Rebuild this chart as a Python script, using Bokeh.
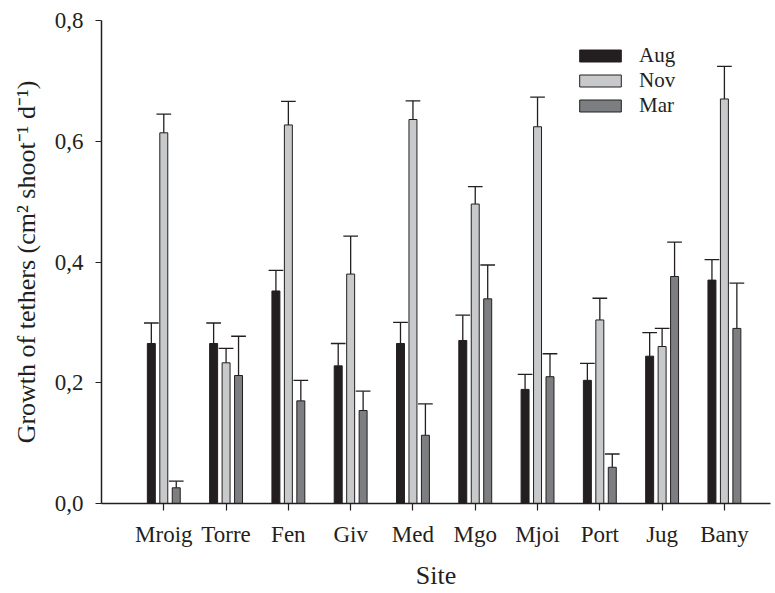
from bokeh.plotting import figure
from bokeh.models import (Range1d, FixedTicker, CustomJSTickFormatter, Legend,
                          LegendItem, ColumnDataSource)
from bokeh.embed import file_html
from bokeh.resources import INLINE

# ---- data ----
sites = ["Mroig", "Torre", "Fen", "Giv", "Med", "Mgo", "Mjoi", "Port", "Jug", "Bany"]
aug = [0.265, 0.265, 0.352, 0.228, 0.265, 0.270, 0.189, 0.204, 0.244, 0.370]
aug_se = [0.034, 0.034, 0.034, 0.037, 0.035, 0.042, 0.025, 0.028, 0.039, 0.034]
nov = [0.614, 0.233, 0.627, 0.380, 0.636, 0.496, 0.624, 0.304, 0.260, 0.670]
nov_se = [0.031, 0.024, 0.039, 0.063, 0.031, 0.029, 0.049, 0.036, 0.030, 0.054]
mar = [0.026, 0.212, 0.170, 0.154, 0.113, 0.339, 0.210, 0.060, 0.376, 0.290]
mar_se = [0.011, 0.065, 0.034, 0.032, 0.052, 0.056, 0.038, 0.022, 0.057, 0.075]
y_ticks = [0.0, 0.2, 0.4, 0.6, 0.8]

series = [("Aug", aug, aug_se, -0.2, "#231f20"),
          ("Nov", nov, nov_se, 0.0, "#c8c9cb"),
          ("Mar", mar, mar_se, 0.2, "#7d7e82")]

FONT = "Liberation Serif"
INK = "#231f20"

p = figure(width=775, height=593, output_backend="svg", toolbar_location=None,
           x_range=Range1d(0, 10.74), y_range=Range1d(0, 0.8),
           min_border_left=101, min_border_right=5, min_border_top=20,
           min_border_bottom=90)
p.outline_line_color = None
p.grid.visible = False
p.background_fill_color = "white"

bar_w = 0.128
cap_half = 0.118
items = []
for name, vals, se, off, col in series:
    xs = [i + 1 + off for i in range(len(sites))]
    tops = [v + s for v, s in zip(vals, se)]
    src = ColumnDataSource(dict(x=xs, top=vals, errtop=tops,
                                xl=[x - cap_half for x in xs],
                                xr=[x + cap_half for x in xs]))
    r = p.vbar(x="x", top="top", bottom=0, width=bar_w, source=src,
               fill_color=col, line_color=INK, line_width=1)
    p.segment(x0="x", y0="top", x1="x", y1="errtop", source=src,
              line_color=INK, line_width=1.3)
    p.segment(x0="xl", y0="errtop", x1="xr", y1="errtop", source=src,
              line_color=INK, line_width=1.3)
    items.append(LegendItem(label=name, renderers=[r]))

legend = Legend(items=items, location=(473, 385), orientation="vertical",
                glyph_width=52, glyph_height=15, label_height=15,
                spacing=0, padding=0, margin=0, label_standoff=13,
                label_text_font=FONT, label_text_font_size="21px",
                label_text_color=INK, border_line_color=None,
                background_fill_alpha=0)
p.add_layout(legend, "center")

# x axis
xa = p.xaxis[0]
xa.ticker = FixedTicker(ticks=list(range(1, len(sites) + 1)))
xa.major_label_overrides = {i + 1: s for i, s in enumerate(sites)}
xa.minor_tick_line_color = None
xa.major_tick_out = 7
xa.major_tick_in = 0
xa.major_label_standoff = 11
xa.axis_label = "Site"
xa.axis_label_standoff = 11

# y axis
ya = p.yaxis[0]
ya.ticker = FixedTicker(ticks=y_ticks)
ya.formatter = CustomJSTickFormatter(code="return tick.toFixed(1).replace('.', ',');")
ya.minor_tick_line_color = None
ya.major_tick_out = 6
ya.major_tick_in = 0
ya.major_label_standoff = 12
ya.axis_label = "Growth of tethers (cm\u00b2 shoot\u207b\u00b9 d\u207b\u00b9)"
ya.axis_label_standoff = 11

for ax in (xa, ya):
    ax.axis_line_color = INK
    ax.axis_line_width = 1.5
    ax.major_tick_line_color = INK
    ax.major_tick_line_width = 1.2
    ax.major_label_text_font = FONT
    ax.major_label_text_font_size = "23px"
    ax.major_label_text_color = INK
    ax.axis_label_text_font = FONT
    ax.axis_label_text_font_size = "26px"
    ax.axis_label_text_font_style = "normal"
    ax.axis_label_text_color = INK

open("out.html", "w").write(file_html(p, INLINE))
